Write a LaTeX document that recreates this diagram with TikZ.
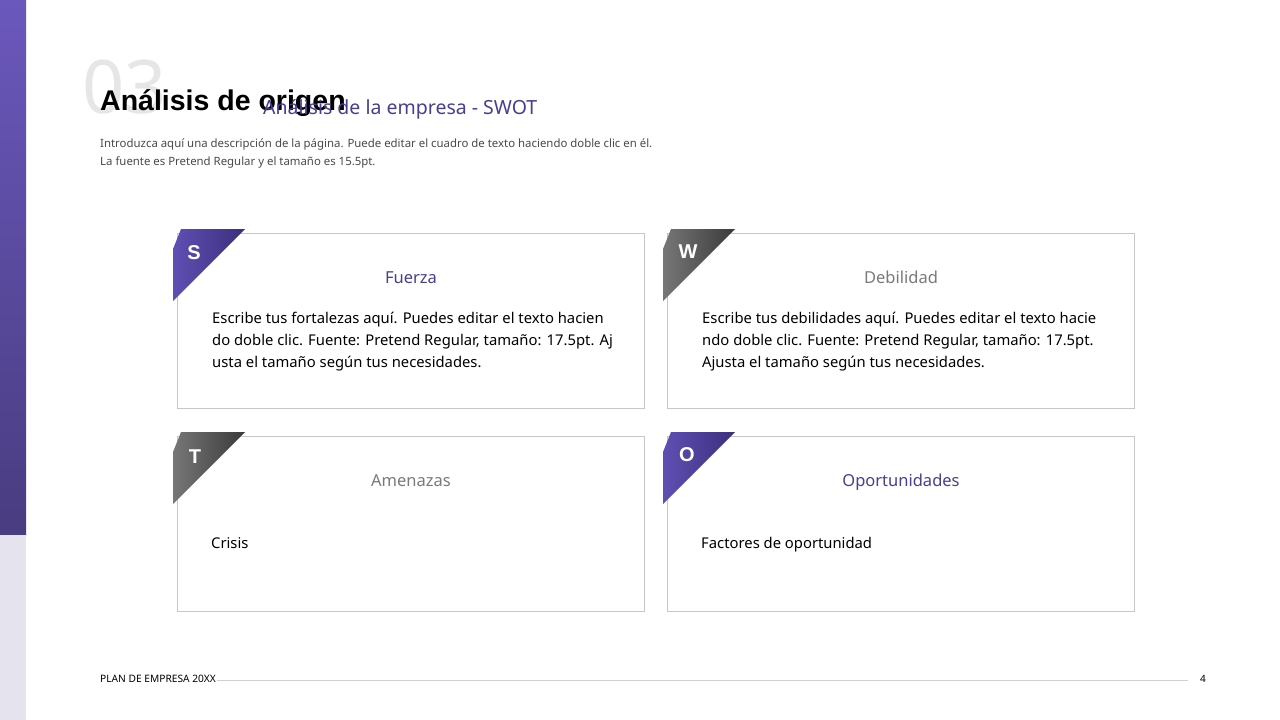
\documentclass[tikz,border=0pt]{standalone}
\usepackage{fontspec}
\setmainfont{Noto Sans}
\newfontfamily\headfont{Liberation Sans}
\usetikzlibrary{positioning}

\definecolor{swotpurple}{HTML}{4B3D8F}
\definecolor{swotgrey}{HTML}{7A7A7A}
\definecolor{boxline}{HTML}{C6C6CC}
\definecolor{bartop}{HTML}{6B58BC}
\definecolor{barbot}{HTML}{493C80}
\definecolor{barlow}{HTML}{E5E3EE}
\definecolor{flagpa}{HTML}{5F4FB3}
\definecolor{flagpb}{HTML}{3B2F7E}
\definecolor{flagga}{HTML}{777777}
\definecolor{flaggb}{HTML}{3A3A3A}
\definecolor{bignum}{HTML}{E6E6E8}
\definecolor{desctext}{HTML}{4A4A4A}
\definecolor{footline}{HTML}{D0D0D4}

\tikzset{
  swotbox/.style={draw=boxline, line width=1.3pt, fill=white, minimum width=467pt,
    minimum height=175pt, inner sep=0pt, anchor=north west},
  swottitle/.style={font=\fontsize{16.5}{19}\selectfont, inner sep=0pt, anchor=base},
  swotbody/.style={font=\fontsize{14.8}{22}\selectfont, align=left, anchor=base west, inner sep=0pt},
  swotletter/.style={text=white, font=\headfont\bfseries\fontsize{20}{22}\selectfont, inner sep=0pt}
}

\begin{document}
\begin{tikzpicture}[x=1pt,y=-1pt]
  \useasboundingbox[fill=white] (0,0) rectangle (1280,720);

  % side bar
  \shade[top color=bartop, bottom color=barbot] (0,0) rectangle (26,535);
  \fill[barlow] (0,535) rectangle (26,720);

  % heading
  \node[anchor=base west, inner sep=0pt, text=bignum, font=\fontsize{74}{76}\selectfont] (num) at (82,113) {03};
  \node[anchor=base west, inner sep=0pt, font=\headfont\bfseries\fontsize{28.5}{32}\selectfont] (title) at (100,110) {Análisis de origen};
  \node[anchor=base west, inner sep=0pt, text=swotpurple, font=\fontsize{19.5}{22}\selectfont] (subtitle) at (263,114) {Análisis de la empresa - SWOT};
  \node[anchor=base west, inner sep=0pt, text=desctext, font=\fontsize{11.4}{18}\selectfont, align=left] (desc) at (100,165)
    {Introduzca aquí una descripción de la página. Puede editar el cuadro de texto haciendo doble clic en él.\\
     La fuente es Pretend Regular y el tamaño es 15.5pt.};

  % boxes
  \node[swotbox] (fuerza) at (177,233) {};
  \node[swotbox] (debilidad) at (667,233) {};
  \node[swotbox] (amenazas) at (177,436) {};
  \node[swotbox] (oportunidades) at (667,436) {};

  % corner flags
  \shade[shading angle=135, left color=flagpa, right color=flagpb]
    (173,249) -- (181,229) -- (245,229) -- (173,301) -- cycle;
  \shade[shading angle=135, left color=flagga, right color=flaggb]
    (663,249) -- (671,229) -- (735,229) -- (663,301) -- cycle;
  \shade[shading angle=135, left color=flagga, right color=flaggb]
    (173,452) -- (181,432) -- (245,432) -- (173,504) -- cycle;
  \shade[shading angle=135, left color=flagpa, right color=flagpb]
    (663,452) -- (671,432) -- (735,432) -- (663,504) -- cycle;

  \node[swotletter] (s) at (194,253) {S};
  \node[swotletter] (w) at (688,252) {W};
  \node[swotletter] (t) at (195,457) {T};
  \node[swotletter] (o) at (687,455) {O};

  % titles
  \node[swottitle, text=swotpurple] (fuerzat) at (411,283) {Fuerza};
  \node[swottitle, text=swotgrey] (debilidadt) at (901,283) {Debilidad};
  \node[swottitle, text=swotgrey] (amenazast) at (411,486) {Amenazas};
  \node[swottitle, text=swotpurple] (oportunidadest) at (901,486) {Oportunidades};

  % contents
  \node[swotbody] (fuerzab) at (212,367)
    {Escribe tus fortalezas aquí. Puedes editar el texto hacien\\
     do doble clic. Fuente: Pretend Regular, tamaño: 17.5pt. Aj\\
     usta el tamaño según tus necesidades.};
  \node[swotbody] (debilidadb) at (702,367)
    {Escribe tus debilidades aquí. Puedes editar el texto hacie\\
     ndo doble clic. Fuente: Pretend Regular, tamaño: 17.5pt.\\
     Ajusta el tamaño según tus necesidades.};
  \node[swotbody] (amenazasb) at (211,548) {Crisis};
  \node[swotbody] (oportunidadesb) at (701,548) {Factores de oportunidad};

  % footer
  \node[anchor=base west, inner sep=0pt, font=\fontsize{10.2}{12}\selectfont] (footer) at (100,682) {PLAN DE EMPRESA 20XX};
  \node[anchor=base west, inner sep=0pt, font=\fontsize{10}{12}\selectfont] (pagenum) at (1200,682) {4};
  \coordinate (linea) at (217,680);
  \coordinate (lineb) at (1188,680);
  \draw[footline, line width=0.8pt] (linea) -- (lineb);
\end{tikzpicture}
\end{document}
